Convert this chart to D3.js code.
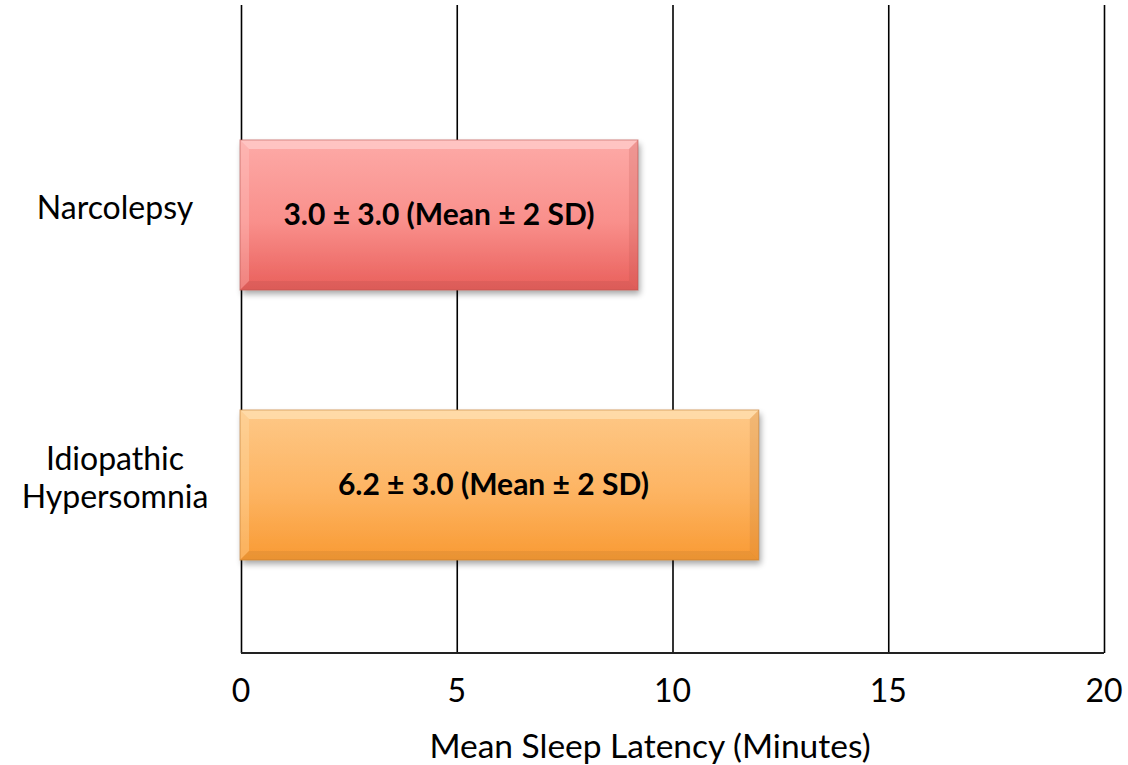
<!DOCTYPE html>
<html>
<head>
<meta charset="utf-8">
<script src="https://cdn.jsdelivr.net/npm/d3@7"></script>
<style>
  html, body { margin: 0; padding: 0; background: #fff; }
  svg { display: block; }
  text { font-family: Lato, "Open Sans", sans-serif; fill: #000; }
</style>
</head>
<body>
<svg id="chart" width="1128" height="765"></svg>
<script>
// Mean sleep latency by disorder
const categories = ["Narcolepsy", "Idiopathic Hypersomnia"];
const categoryLines = [["Narcolepsy"], ["Idiopathic", "Hypersomnia"]];
const means = [3.0, 6.2];
const spreads = [3.0, 3.0];
const barEnds = [9.2, 12.0];
const xTicks = [0, 5, 10, 15, 20];
const xTitle = "Mean Sleep Latency (Minutes)";

const palettes = [
  { top: "#fdaaa7", mid: "#f98f8b", bottom: "#e95f5b", light: "#ffd0ce", dark: "#b9504c" },
  { top: "#fec887", mid: "#fdb462", bottom: "#f99a33", light: "#ffe3b5", dark: "#c07a30" }
];

const svg = d3.select("#chart");
const plot = { left: 241, right: 1104, top: 5, bottom: 653 };

const x = d3.scaleLinear().domain([0, 20]).range([plot.left, plot.right]);
const y = d3.scaleBand().domain(categories).range([80, 620]).paddingInner(0.444).paddingOuter(0.222);

const defs = svg.append("defs");
palettes.forEach((p, i) => {
  const g = defs.append("linearGradient").attr("id", "grad" + i)
    .attr("x1", 0).attr("y1", 0).attr("x2", 0).attr("y2", 1);
  g.append("stop").attr("offset", "0%").attr("stop-color", p.top);
  g.append("stop").attr("offset", "55%").attr("stop-color", p.mid);
  g.append("stop").attr("offset", "100%").attr("stop-color", p.bottom);
});
const shadow = defs.append("filter").attr("id", "shadow")
  .attr("x", "-5%").attr("y", "-10%").attr("width", "115%").attr("height", "130%");
shadow.append("feGaussianBlur").attr("in", "SourceAlpha").attr("stdDeviation", 3).attr("result", "b");
shadow.append("feOffset").attr("in", "b").attr("dx", 2).attr("dy", 4).attr("result", "o");
shadow.append("feComponentTransfer").attr("in", "o").attr("result", "s")
  .append("feFuncA").attr("type", "linear").attr("slope", 0.35);
const m = shadow.append("feMerge");
m.append("feMergeNode").attr("in", "s");
m.append("feMergeNode").attr("in", "SourceGraphic");

// vertical gridlines
svg.append("g")
  .attr("transform", `translate(0,${plot.bottom})`)
  .call(d3.axisBottom(x).tickValues(xTicks).tickSize(-(plot.bottom - plot.top)).tickFormat(""))
  .call(g => g.select(".domain").remove())
  .call(g => g.selectAll(".tick line").attr("stroke", "#000").attr("stroke-width", 1.6));

// baseline
svg.append("line")
  .attr("x1", x(0)).attr("x2", x(20)).attr("y1", plot.bottom).attr("y2", plot.bottom)
  .attr("stroke", "#222").attr("stroke-width", 2);

// tick labels
svg.append("g").selectAll("text").data(xTicks).join("text")
  .attr("x", d => x(d)).attr("y", 702)
  .attr("text-anchor", "middle").attr("font-size", 32)
  .text(d => d);

// axis title
svg.append("text")
  .attr("x", 650).attr("y", 758)
  .attr("text-anchor", "middle").attr("font-size", 33.5)
  .text(xTitle);

// category labels
categories.forEach((c, i) => {
  const lines = categoryLines[i];
  const cy = y(c) + y.bandwidth() / 2;
  const lh = 38;
  const t = svg.append("text").attr("text-anchor", "middle").attr("font-size", 32);
  lines.forEach((ln, j) => {
    t.append("tspan").attr("x", 115)
      .attr("y", cy + (j - (lines.length - 1) / 2) * lh + 4)
      .text(ln);
  });
});

// bevelled bars
const bev = 9;
const bars = svg.append("g").selectAll("g").data(categories).join("g");
bars.each(function (c, i) {
  const g = d3.select(this);
  const p = palettes[i];
  const x0 = x(0) - 1, x1 = x(barEnds[i]);
  const y0 = y(c), y1 = y(c) + y.bandwidth();
  g.append("rect")
    .attr("x", x0).attr("y", y0).attr("width", x1 - x0).attr("height", y1 - y0)
    .attr("fill", `url(#grad${i})`).attr("filter", "url(#shadow)");
  // top bevel
  g.append("path")
    .attr("d", `M${x0},${y0}L${x1},${y0}L${x1 - bev},${y0 + bev}L${x0 + bev},${y0 + bev}Z`)
    .attr("fill", p.light).attr("opacity", 0.7);
  // left bevel
  g.append("path")
    .attr("d", `M${x0},${y0}L${x0 + bev},${y0 + bev}L${x0 + bev},${y1 - bev}L${x0},${y1}Z`)
    .attr("fill", p.light).attr("opacity", 0.3);
  // right bevel
  g.append("path")
    .attr("d", `M${x1},${y0}L${x1},${y1}L${x1 - bev},${y1 - bev}L${x1 - bev},${y0 + bev}Z`)
    .attr("fill", p.dark).attr("opacity", 0.2);
  // bottom bevel
  g.append("path")
    .attr("d", `M${x0},${y1}L${x1},${y1}L${x1 - bev},${y1 - bev}L${x0 + bev},${y1 - bev}Z`)
    .attr("fill", p.dark).attr("opacity", 0.25);
  g.append("rect")
    .attr("x", x0).attr("y", y0).attr("width", x1 - x0).attr("height", y1 - y0)
    .attr("fill", "none").attr("stroke", p.dark).attr("stroke-opacity", 0.6).attr("stroke-width", 1);
  g.append("text")
    .attr("x", (x0 + x1) / 2 - (i === 1 ? 6 : 0)).attr("y", (y0 + y1) / 2 + 10)
    .attr("text-anchor", "middle").attr("font-size", 30).attr("font-weight", "bold")
    .text(`${means[i].toFixed(1)} ± ${spreads[i].toFixed(1)} (Mean ± 2 SD)`);
});
</script>
</body>
</html>
